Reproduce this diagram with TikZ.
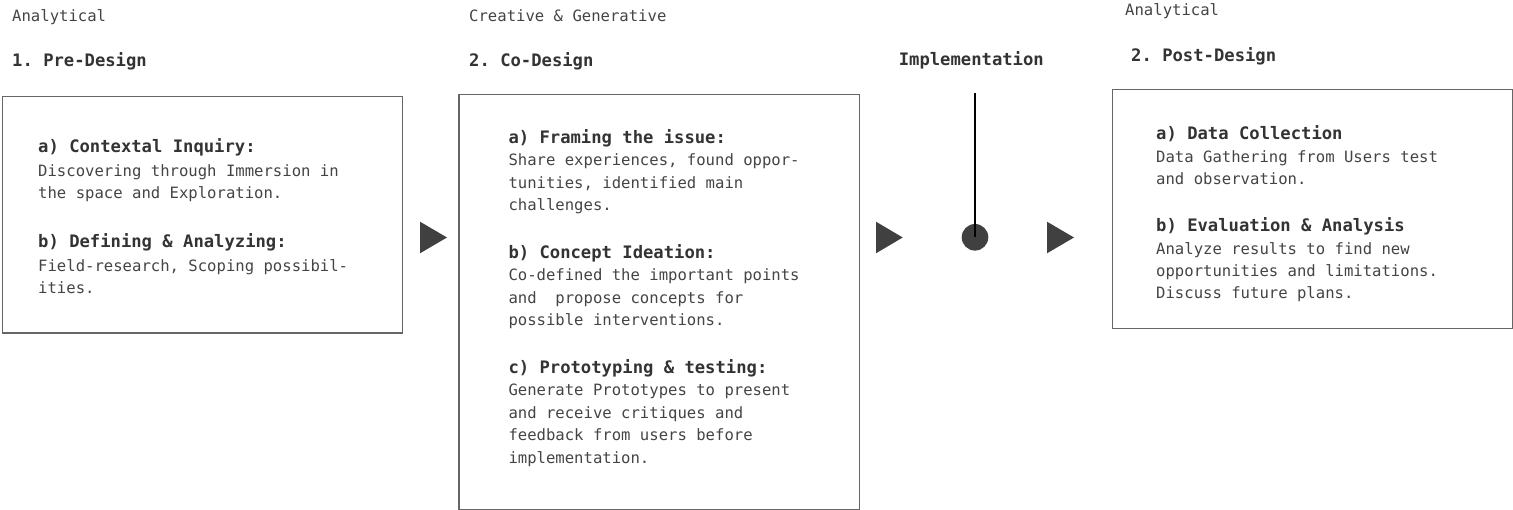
\documentclass[tikz,border=0pt]{standalone}
\usepackage{fontspec}
\setmonofont{DejaVu Sans Mono}
\definecolor{txt}{HTML}{444444}
\definecolor{hd}{HTML}{333333}
\definecolor{frame}{HTML}{666666}
\definecolor{mark}{HTML}{404040}
\tikzset{
  body/.style={anchor=base west, inner sep=0pt, text=txt, font=\ttfamily\fontsize{15.6}{18}\selectfont},
  head/.style={anchor=base west, inner sep=0pt, text=hd, font=\ttfamily\bfseries\fontsize{17.2}{20}\selectfont},
  framebox/.style={draw=frame, line width=1.4pt, anchor=north west, inner sep=0pt},
  tri/.style={fill=mark, draw=none},
}
\begin{document}
\begin{tikzpicture}[x=1pt, y=-1pt]
\useasboundingbox (0,0) rectangle (1513,510);
% ---- column 1
\node[body] (l1) at (12,21.7) {Analytical};
\node[head] (t1) at (12,66.7) {1. Pre-Design};
\node[framebox, minimum width=400pt, minimum height=236.6pt] (b1) at (1.7,95.7) {};
\node[head] (h1a) at (38,153) {a) Contextal Inquiry:};
\node[body] (p1a1) at (38,176.5) {Discovering through Immersion in};
\node[body] (p1a2) at (38,199) {the space and Exploration.};
\node[head] (h1b) at (38,248) {b) Defining \& Analyzing:};
\node[body] (p1b1) at (38,271.5) {Field-research, Scoping possibil-};
\node[body] (p1b2) at (38,293.5) {ities.};
% ---- column 2
\node[body] (l2) at (469,21.7) {Creative \& Generative};
\node[head] (t2) at (469,66.7) {2. Co-Design};
\node[framebox, minimum width=400.7pt, minimum height=415pt] (b2) at (458.3,94) {};
\node[head] (h2a) at (508.3,143.3) {a) Framing the issue:};
\node[body] (p2a1) at (508.3,165.7) {Share experiences, found oppor-};
\node[body] (p2a2) at (508.3,188.3) {tunities, identified main};
\node[body] (p2a3) at (508.3,210.5) {challenges.};
\node[head] (h2b) at (508.3,258.3) {b) Concept Ideation:};
\node[body] (p2b1) at (508.3,280.7) {Co-defined the important points};
\node[body] (p2b2) at (508.3,303.3) {and~~propose concepts for};
\node[body] (p2b3) at (508.3,325.7) {possible interventions.};
\node[head] (h2c) at (508.3,373.3) {c) Prototyping \& testing:};
\node[body] (p2c1) at (508.3,395.7) {Generate Prototypes to present};
\node[body] (p2c2) at (508.3,418.3) {and receive critiques and};
\node[body] (p2c3) at (508.3,440.7) {feedback from users before};
\node[body] (p2c4) at (508.3,463.3) {implementation.};
% ---- implementation
\node[head, anchor=base] (timp) at (971.3,66) {Implementation};
\coordinate (itop) at (975,93.3);
\node[circle, fill=mark, inner sep=0pt, minimum size=26.6pt] (dot) at (975,237.3) {};
\draw[black, line width=1.5pt] (itop) -- (dot.center);
% ---- column 3
\node[body] (l3) at (1125,16) {Analytical};
\node[head] (t3) at (1131,61.7) {2. Post-Design};
\node[framebox, minimum width=400.6pt, minimum height=239pt] (b3) at (1111.7,89) {};
\node[head] (h3a) at (1156,139.3) {a) Data Collection};
\node[body] (p3a1) at (1156,162.7) {Data Gathering from Users test};
\node[body] (p3a2) at (1156,184.5) {and observation.};
\node[head] (h3b) at (1156,231.7) {b) Evaluation \& Analysis};
\node[body] (p3b1) at (1156,255) {Analyze results to find new};
\node[body] (p3b2) at (1156,277) {opportunities and limitations.};
\node[body] (p3b3) at (1156,299) {Discuss future plans.};
% ---- triangles
\fill[tri] (420,221.7) -- (447,237.5) -- (420,253.3) -- cycle;
\fill[tri] (876,221.7) -- (902.7,237.5) -- (876,253.3) -- cycle;
\fill[tri] (1047,221.7) -- (1074,237.5) -- (1047,253.3) -- cycle;
\end{tikzpicture}
\end{document}
